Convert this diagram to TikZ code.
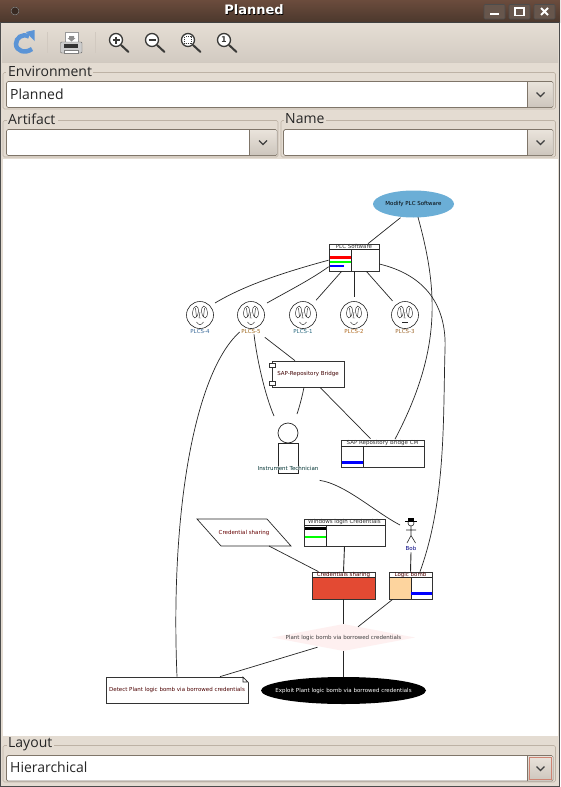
\documentclass[tikz,border=0pt]{standalone}
\usepackage{fontspec}
\setmainfont{DejaVu Sans}
\newfontfamily\guifont{Open Sans}
\usetikzlibrary{shapes.geometric, arrows.meta, positioning, calc}
\definecolor{guibg}{HTML}{E4DCD2}
\definecolor{guiline}{HTML}{BDB2A5}
\definecolor{comboline}{HTML}{7F7569}
\definecolor{titletop}{HTML}{6B4C3D}
\definecolor{titlebot}{HTML}{4C382D}
\definecolor{riskblue}{HTML}{6BAED6}
\definecolor{riskred}{HTML}{E34A33}
\definecolor{riskpeach}{HTML}{FDD49E}
\definecolor{riskpink}{HTML}{FEF0F0}
\definecolor{lenscol}{HTML}{3A3A38}
\definecolor{iconblue}{HTML}{5B94D6}
\tikzset{
  edge/.style={draw=black!85, line width=0.7pt},
  classbox/.style={draw=black!80, line width=0.7pt, fill=white, inner sep=0pt},
  tinylabel/.style={font=\fontsize{5.5}{6.5}\selectfont, inner sep=0pt},
  guilabel/.style={font=\guifont\fontsize{14}{16}\selectfont, text=black!85, inner sep=0pt, anchor=west},
  groupframe/.style={draw=guiline, rounded corners=1.5pt, line width=0.6pt},
  combobox/.style={draw=comboline, fill=white, rounded corners=1.5pt, line width=0.7pt},
  winbutton/.style={draw=black!70, rounded corners=1pt, fill=titlebot!85!white, line width=0.6pt},
  lens/.style={draw=lenscol, line width=1.3pt, fill=white},
  handle/.style={draw=lenscol, line width=2pt, line cap=round},
  facepart/.style={draw=black!85, line width=0.45pt}
}
\begin{document}
\begin{tikzpicture}[x=1pt, y=-1pt]
    \useasboundingbox (0,0) rectangle (560,787);
    % Finestra
    \fill[guibg] (0,0) rectangle (560,787);
    \shade[top color=titletop, bottom color=titlebot] (0,0) rectangle (560,22);
    \draw[black!75, line width=0.8pt] (0,22.5) -- (560,22.5);
    \draw[black!70, line width=1.2pt] (0.5,22) -- (0.5,786.5) -- (559.5,786.5) -- (559.5,22);
    \fill[titlebot!75!black] (15,11) circle (4.5);
    \draw[black!45, line width=0.5pt] (15,11) circle (4);
    \node[font=\bfseries\fontsize{13}{15}\selectfont, text=black] (titleshadow) at (254.8,10.8) {Planned};
    \node[font=\bfseries\fontsize{13}{15}\selectfont, text=white] (title) at (254,10) {Planned};
    % Bottoni finestra
    \foreach \bx in {484,509,534}
        \draw[winbutton] (\bx,4.5) rectangle (\bx+21,19);
    \fill[white] (490,13) rectangle (499,15);
    \draw[white, line width=1.4pt] (515,8) rectangle (524,15.5);
    \draw[white, line width=2pt] (541,8) -- (548,15) (548,8) -- (541,15);

    % Barra strumenti
    \shade[top color=guibg!95!white, bottom color=guibg!92!black] (2,23) rectangle (558,62);
    \draw[guiline!70, line width=0.6pt] (2,62.5) -- (558,62.5);
    \draw[guiline!70, line width=0.8pt] (47,32) -- (47,53) (95,32) -- (95,53);
    % Ricarica
    \draw[iconblue, line width=4.5pt] (29,36.5) .. controls (22,33) and (16,38) .. (16,44) .. controls (16,51) and (25,54) .. (32,49);
    \fill[iconblue] (26,32) -- (34.5,30) -- (34.5,41) -- cycle;
    % Stampante
    \fill[white, draw=black!40] (65,32) rectangle (78,43);
    \fill[black!45] (69,36) rectangle (74,38) (67.5,38) -- (75.5,38) -- (71.5,41.5) -- cycle;
    \fill[black!20, draw=black!60, rounded corners=1pt] (60.5,42) rectangle (82,53);
    \fill[black!80] (64,44) rectangle (78,48);
    \fill[white, draw=black!50] (64,50) rectangle (78,53);
    % Lenti
    \foreach \lx in {116,152,188,224} {
        \draw[handle] (\lx+5,45) -- (\lx+12.5,52);
        \draw[lens] (\lx,40) circle (6.5);
    }
    \draw[lenscol, line width=1.3pt] (112.5,40) -- (119.5,40) (116,36.5) -- (116,43.5);
    \draw[lenscol, line width=1.3pt] (148.5,40) -- (155.5,40);
    \draw[lenscol, line width=1pt, densely dotted] (184.5,36.5) rectangle (191.5,43.5);
    \node[font=\bfseries\fontsize{8}{9}\selectfont, text=lenscol, inner sep=0pt] (zoomone) at (224,40) {1};

    % Gruppi e combo
    \draw[groupframe] (3,72.5) rectangle (555.5,109);
    \draw[groupframe] (3,120.5) rectangle (278,157);
    \draw[groupframe] (281,120.5) rectangle (555.5,157);
    \draw[groupframe] (3,745.5) rectangle (555.5,782);
    \foreach \cxa/\cxb/\cxc/\cya/\cyb in {6.5/527/553/81.5/107.5, 6.5/249.5/277/129.5/155.5, 283.5/527/553/129.5/155.5, 6.5/527/553/755.5/781} {
        \draw[combobox] (\cxa,\cya) rectangle (\cxc,\cyb);
        \shade[top color=guibg!80!white, bottom color=guibg!90!black, rounded corners=1pt] (\cxb,\cya+0.5) rectangle (\cxc-0.5,\cyb-0.5);
        \draw[comboline] (\cxb,\cya) -- (\cxb,\cyb);
        \draw[black!75, line width=1.1pt] (\cxb+9.5,\cya+11) -- (\cxb+13.5,\cya+15) -- (\cxb+17.5,\cya+11);
    }
    \draw[riskred!45!guiline, line width=0.7pt] (529.5,757.5) rectangle (551,779);
    \fill[guibg] (6,64) rectangle (93,78);
    \fill[guibg] (7,112) rectangle (58,125);
    \fill[guibg] (284,112) rectangle (326,125);
    \fill[guibg] (7,738) rectangle (54,750);
    \node[guilabel] (envlabel) at (8,71) {Environment};
    \node[guilabel] (envvalue) at (10,94) {Planned};
    \node[guilabel] (artlabel) at (8,119) {Artifact};
    \node[guilabel] (namelabel) at (285,119) {Name};
    \node[guilabel] (laylabel) at (8,744) {Layout};
    \node[guilabel] (layvalue) at (10,767) {Hierarchical};

    % Tela
    \fill[white] (2.5,159) rectangle (557.5,736);

    % Nodi
    \node[ellipse, fill=riskblue, minimum width=81, minimum height=27, inner sep=0pt] (modify) at (413.5,204) {};
    \node[tinylabel, text=black] (modifylabel) at (413.5,204) {Modify PLC Software};

    % Asset PLC
    \node[classbox, minimum width=50, minimum height=27] (plc) at (354,257.5) {};
    \draw[edge] (329,249.5) -- (379,249.5) (351,249.5) -- (351,271);
    \fill[red] (329.5,256) rectangle (351,258.5);
    \fill[green] (329.5,260.5) rectangle (351,262.5);
    \fill[blue] (329.5,264.5) rectangle (344,266.5);
    \node[tinylabel, text=black!80] (plctitle) at (354,246.8) {PLC Software};

    % Facce
    \foreach \fx/\fname/\fcol in {200/4/3A6A9A, 251/5/A06A20, 303/1/2A6A80, 354/2/B06A20, 405/3/A06A30} {
        \definecolor{labcol}{HTML}{\fcol}
        \node[circle, draw=black!85, line width=0.6pt, fill=white, minimum size=27, inner sep=0pt] (f\fname) at (\fx,315) {};
        \node[tinylabel, text=labcol] (l\fname) at (\fx,331) {PLCS-\fname};
        \begin{scope}[shift={(\fx,315)}]
            \draw[facepart, rotate around={-8:(-4.5,-3)}] (-4.5,-3) ellipse[x radius=2.8, y radius=6];
            \draw[facepart, rotate around={8:(4.5,-3)}] (4.5,-3) ellipse[x radius=2.8, y radius=6];
            \draw[facepart] (-4.5,-7) -- (-3.5,2) (4.5,-7) -- (3.5,2) (0,-3) -- (-1,3) -- (1,3);
        \end{scope}
    }
    \foreach \fx in {200,251,303,354}
        \draw[facepart] (\fx-3.5,322) .. controls (\fx-1,325.5) and (\fx+1,325.5) .. (\fx+3.5,322);
    \draw[facepart, line width=0.6pt] (402,322.5) -- (408,322.5);

    % Bridge
    \node[classbox, minimum width=72, minimum height=26, tinylabel, text=black!75!red] (bridge) at (308,374) {SAP-Repository Bridge};
    \draw[classbox] (269,363) rectangle (275,367);
    \draw[classbox] (269,381) rectangle (275,385);

    % Tecnico
    \node[circle, draw=black!85, line width=0.7pt, fill=white, minimum size=20, inner sep=0pt] (techhead) at (288,433) {};
    \node[draw=black!85, line width=0.7pt, fill=white, minimum width=20, minimum height=30, inner sep=0pt] (techbody) at (288,458) {};
    \node[tinylabel, text=black!60!teal, fill=white, fill opacity=0.6, text opacity=1] (techlabel) at (288,468) {Instrument Technician};

    % Bridge CM
    \node[classbox, minimum width=83, minimum height=27] (bridgecm) at (382.5,453.5) {};
    \draw[edge] (341,446) -- (424,446) (363,446) -- (363,467);
    \fill[blue] (341.5,461) rectangle (363,463.5);
    \node[tinylabel, text=black!80] (cmtitle) at (382.5,443) {SAP Repository Bridge CM};

    % Parallelogramma
    \draw[edge, fill=white] (197,519) -- (267,519) -- (291,546) -- (221,546) -- cycle;
    \node[tinylabel, text=black!60!red] (credpara) at (244,532.5) {Credential sharing};
    \coordinate (credparaS) at (269,546);

    % Credenziali Windows
    \node[classbox, minimum width=81, minimum height=27] (wincred) at (344.5,532.5) {};
    \draw[edge] (304,525) -- (385,525) (326,525) -- (326,546);
    \fill[black] (304.5,527) rectangle (326,529.5);
    \fill[green] (304.5,535.5) rectangle (326,537.5);
    \node[tinylabel, text=black!80] (wintitle) at (344.5,522) {Windows login Credentials};

    % Bob
    \coordinate (bobarm) at (400,525);
    \draw[facepart, line width=0.6pt] (411,523) circle (3);
    \fill[black] (408,518) rectangle (414,521.5);
    \draw[black, line width=1.1pt] (405,521.5) -- (417,521.5);
    \draw[facepart, line width=0.6pt] (411,526) -- (411,535.5) (406,530) -- (416,530) (407,543) -- (411,535.5) -- (415.5,543);
    \node[tinylabel, text=black!50!blue] (boblabel) at (411,548) {Bob};

    % Credential sharing e logic bomb
    \node[classbox, fill=riskred, minimum width=63, minimum height=27] (credbox) at (343.5,585.5) {};
    \fill[white] (312.5,572.5) rectangle (375,577.5);
    \draw[edge] (312,577.5) -- (375,577.5);
    \node[tinylabel, text=black!70!red] (credtitle) at (343.5,575) {Credentials sharing};
    \node[classbox, minimum width=43, minimum height=27] (bomb) at (410.5,585.5) {};
    \fill[riskpeach] (389.5,577.5) rectangle (411,598.5);
    \draw[edge] (389,577.5) -- (432,577.5) (411,577.5) -- (411,599);
    \fill[blue] (411,592) rectangle (431.5,594.5);
    \node[tinylabel, text=black!70!red] (bombtitle) at (410.5,575) {Logic bomb};

    % Rischio, rilevamento, sfruttamento
    \node[diamond, aspect=5.3, fill=riskpink, inner sep=0pt, minimum width=143, minimum height=27] (risk) at (343.5,637.5) {};
    \node[tinylabel, text=black!75] (risklabel) at (343.5,637.5) {Plant logic bomb via borrowed credentials};
    \node[classbox, minimum width=142, minimum height=26, tinylabel, text=black!70!red] (detect) at (177,690) {Detect Plant logic bomb via borrowed credentials};
    \fill[white] (242.5,676) -- (249,676) -- (249,682.5) -- cycle;
    \draw[edge] (243,677) -- (248,682) -- (243,682) -- cycle;
    \node[ellipse, fill=black, minimum width=165, minimum height=27, inner sep=0pt] (exploit) at (343.5,690.5) {};
    \node[tinylabel, text=white] (exploitlabel) at (343.5,690.5) {Exploit Plant logic bomb via borrowed credentials};

    % Collegamenti
    \draw[edge] ($(modify.south)+(-13,0)$) -- ($(plc.north)+(14,0)$);
    \draw[edge] ($(modify.south)+(4.5,-0.5)$) .. controls (438,290) and (442,350) .. ($(bridgecm.north)+(12.5,-0.5)$);
    \draw[edge] (plc.186) .. controls (285,272) and (245,285) .. ($(f4)+(15,-12)$);
    \draw[edge] (plc.200) .. controls (310,280) and (290,290) .. ($(f5)+(16,-12)$);
    \draw[edge, shorten >=6pt] ($(plc.south west)+(13,0)$) -- (f1);
    \draw[edge, shorten >=4pt, line width=0.9pt] (plc.south) -- (f2.north);
    \draw[edge, shorten >=5pt] ($(plc.south east)+(-13,0)$) -- (f3);
    \draw[edge] ($(plc.east)+(0,6.5)$) .. controls (425,275) and (447,305) .. (445,350) .. controls (443,420) and (446,500) .. ($(bomb.north)+(9.5,0)$);
    \draw[edge] ($(l5.south east)+(4,4)$) -- ($(bridge.north)+(-13,0)$);
    \draw[edge] ($(l5.south)+(3,1)$) .. controls (257,360) and (265,395) .. ($(techhead)+(-14,-17)$);
    \draw[edge] ($(l5.west)+(-1.5,1)$) .. controls (195,372) and (170,510) .. (detect.north);
    \draw[edge] ($(bridge.south)+(-4,0)$) .. controls (302,397) and (300,405) .. ($(techhead)+(9,-19)$);
    \draw[edge] ($(bridge.south)+(12,0)$) -- ($(bridgecm.north)+(-12,-1)$);
    \draw[edge] ($(techlabel.south east)+(1,10)$) .. controls (345,484) and (375,512) .. (bobarm);
    \draw[edge, line width=0.9pt] ($(boblabel.south)+(0,2)$) -- (bomb.north);
    \draw[edge, line width=0.9pt] (wincred.south) -- (credbox.north);
    \draw[edge] (credparaS) -- ($(credbox.north)+(-25,0)$);
    \draw[edge] (credbox.south) -- (risk.north);
    \draw[edge] ($(bomb.south west)+(4,0)$) -- ($(risk.north)+(14.5,3)$);
    \draw[edge] ($(risk.south)+(-26,-4)$) -- ($(detect.north)+(43,0)$);
    \draw[edge] (risk.south) -- (exploit.north);
\end{tikzpicture}
\end{document}
